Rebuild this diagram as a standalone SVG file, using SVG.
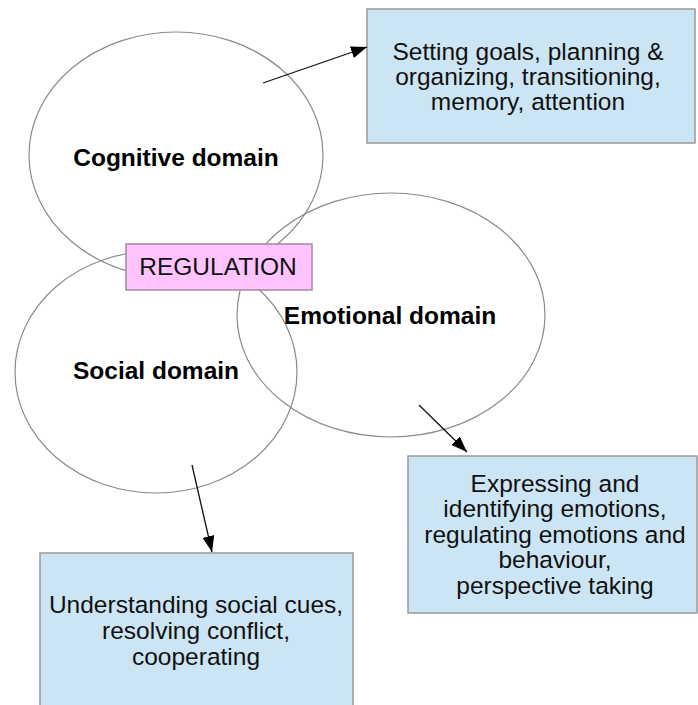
<svg xmlns="http://www.w3.org/2000/svg" width="698" height="705" viewBox="0 0 698 705">
<style>
.dom{fill:none;stroke:#8a8a8a;stroke-width:1.2}
.lbl{font-family:"Liberation Sans",Arial,sans-serif;font-size:24.5px;font-weight:bold;fill:#000;text-anchor:middle}
.txt{font-family:"Liberation Sans",Arial,sans-serif;font-size:24.5px;fill:#111;text-anchor:middle}
.box{fill:#cce5f5;stroke:#999;stroke-width:1.5}
.reg{fill:#ffc4ff;stroke:#a08aa0;stroke-width:1.5}
.conn{stroke:#111;stroke-width:1.3;fill:none;marker-end:url(#ah)}
</style>
<defs>
<marker id="ah" viewBox="0 0 16 12" refX="16" refY="6" markerWidth="16" markerHeight="12" markerUnits="userSpaceOnUse" orient="auto">
<path d="M0,0 L16,6 L0,12 z" fill="#000"/>
</marker>
</defs>
<rect width="698" height="705" fill="#fff"/>
<g id="cognitive">
<ellipse class="dom" cx="176" cy="155" rx="147" ry="123"/>
<text class="lbl" x="176" y="166">Cognitive domain</text>
</g>
<g id="social">
<ellipse class="dom" cx="156" cy="372" rx="141" ry="121"/>
<text class="lbl" x="156" y="379">Social domain</text>
</g>
<g id="emotional">
<ellipse class="dom" cx="391" cy="315" rx="154" ry="122"/>
<text class="lbl" x="390" y="324">Emotional domain</text>
</g>
<g id="regulation">
<rect class="reg" x="126" y="244" width="186" height="46"/>
<text class="txt" x="218" y="275">REGULATION</text>
</g>
<g id="cognitive-skills">
<rect class="box" x="367" y="9" width="328" height="134"/>
<text class="txt" x="528" y="60">Setting goals, planning &amp;</text>
<text class="txt" x="528" y="85">organizing, transitioning,</text>
<text class="txt" x="528" y="110">memory, attention</text>
</g>
<g id="emotional-skills">
<rect class="box" x="408" y="456" width="289" height="157"/>
<text class="txt" x="555" y="492">Expressing and</text>
<text class="txt" x="555" y="517">identifying emotions,</text>
<text class="txt" x="555" y="543">regulating emotions and</text>
<text class="txt" x="555" y="568">behaviour,</text>
<text class="txt" x="555" y="594">perspective taking</text>
</g>
<g id="social-skills">
<rect class="box" x="40" y="553" width="313" height="170"/>
<text class="txt" x="196" y="613">Understanding social cues,</text>
<text class="txt" x="196" y="639">resolving conflict,</text>
<text class="txt" x="196" y="665">cooperating</text>
</g>
<g id="connectors">
<line class="conn" x1="263" y1="83" x2="367" y2="47"/>
<line class="conn" x1="419" y1="405" x2="467" y2="452"/>
<line class="conn" x1="192" y1="465" x2="212" y2="552"/>
</g>
</svg>
